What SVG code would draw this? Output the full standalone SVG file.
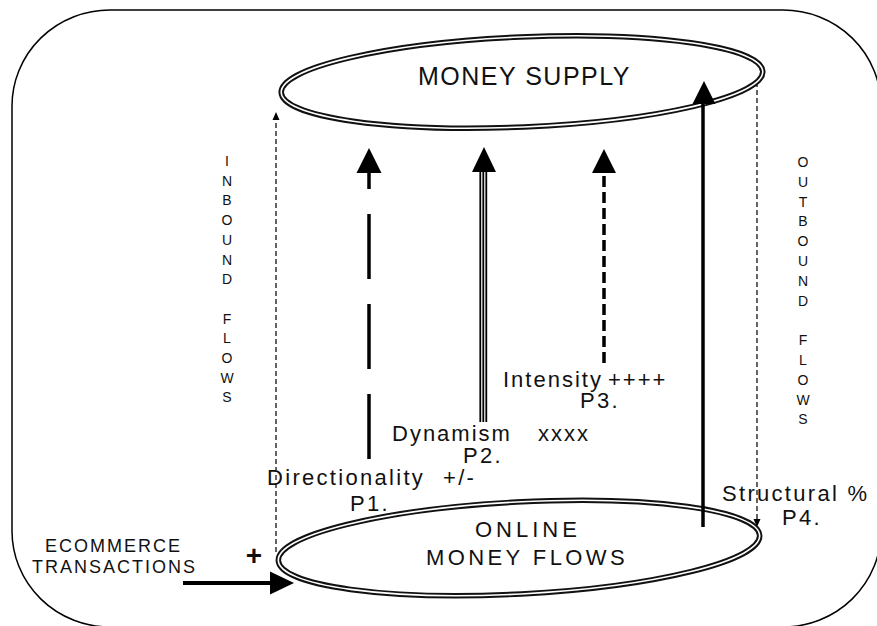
<svg xmlns="http://www.w3.org/2000/svg" width="877" height="626" viewBox="0 0 877 626">
<style>
  .t{font-family:"Liberation Sans",Arial,sans-serif;fill:#111;}
  .lbl{font-size:22px;letter-spacing:2.3px;}
  .big{font-size:25px;}
  .vert{font-size:14px;text-anchor:middle;}
  .ellOuter{fill:#fff;stroke:#111;stroke-width:5.5;}
  .ellInner{fill:none;stroke:#fff;stroke-width:1.6;}
  .head{fill:#000;}
  .thin{stroke:#111;stroke-width:1.3;fill:none;stroke-dasharray:5 3;}
</style>
<rect x="0" y="0" width="877" height="626" fill="#fff"/>
<rect id="frame" x="12" y="10" width="869" height="617" rx="98" ry="96" fill="none" stroke="#000" stroke-width="1.5"/>

<g id="connectors">
  <line class="thin" x1="276" y1="552" x2="276" y2="119"/>
  <polygon class="head" points="276,112 272.5,120 279.5,120"/>
  <line class="thin" x1="757" y1="82" x2="757" y2="520"/>
  <polygon class="head" points="757,527 753.5,519 760.5,519"/>
  <line x1="183" y1="583" x2="272" y2="583" stroke="#000" stroke-width="4"/>
  <polygon class="head" points="294,583 270,571.5 270,594.5"/>
</g>

<g id="money-supply">
  <ellipse class="ellOuter" cx="522" cy="82" rx="241" ry="45" transform="rotate(-2.5 522 82)"/>
  <ellipse class="ellInner" cx="522" cy="82" rx="241" ry="45" transform="rotate(-2.5 522 82)"/>
  <text class="t big" x="418" y="85" style="letter-spacing:1.5px">MONEY SUPPLY</text>
</g>

<g id="online-money-flows">
  <ellipse class="ellOuter" cx="519" cy="548" rx="241" ry="46" transform="rotate(-3 519 548)"/>
  <ellipse class="ellInner" cx="519" cy="548" rx="241" ry="46" transform="rotate(-3 519 548)"/>
  <text class="t" x="475" y="537" style="font-size:22px;letter-spacing:4px">ONLINE</text>
  <text class="t" x="426" y="565" style="font-size:22px;letter-spacing:3.4px">MONEY FLOWS</text>
</g>

<g id="connectors-flows">
  <line x1="369" y1="459" x2="369" y2="172" stroke="#000" stroke-width="3.5" stroke-dasharray="65 25"/>
  <polygon class="head" points="369,148 356.5,173 381.5,173"/>
  <g stroke="#000" stroke-width="1.8">
    <line x1="480.3" y1="422" x2="480.3" y2="170"/>
    <line x1="483.3" y1="422" x2="483.3" y2="170"/>
    <line x1="486.3" y1="422" x2="486.3" y2="170"/>
  </g>
  <polygon class="head" points="484,147 472,172 496,172"/>
  <line x1="604" y1="363" x2="604" y2="172" stroke="#000" stroke-width="3.5" stroke-dasharray="11 5"/>
  <polygon class="head" points="604,149 592,173 616,173"/>
  <line x1="703" y1="527" x2="703" y2="100" stroke="#000" stroke-width="3.5"/>
  <polygon class="head" points="704,81 692.5,104 715.5,104"/>
</g>

<g id="ecommerce">
  <text class="t" x="45" y="552" style="font-size:18px;letter-spacing:2px">ECOMMERCE</text>
  <text class="t" x="32" y="573" style="font-size:18px;letter-spacing:2px">TRANSACTIONS</text>
  <text class="t" x="254" y="565" text-anchor="middle" style="font-size:28px;font-weight:bold">+</text>
</g>

<g id="p1">
  <text class="t lbl" x="267" y="485">Directionality<tspan x="443">+/-</tspan></text>
  <text class="t lbl" x="350" y="511">P1.</text>
</g>
<g id="p2">
  <text class="t lbl" x="392" y="441" style="letter-spacing:2px">Dynamism<tspan x="538">xxxx</tspan></text>
  <text class="t lbl" x="463" y="463">P2.</text>
</g>
<g id="p3">
  <text class="t lbl" x="503" y="387" style="letter-spacing:2px">Intensity<tspan x="608">++++</tspan></text>
  <text class="t lbl" x="580" y="408">P3.</text>
</g>
<g id="p4">
  <text class="t lbl" x="722" y="501">Structural %</text>
  <text class="t lbl" x="782" y="525">P4.</text>
</g>

<g id="inbound-flows">
  <text class="t vert" x="227" y="166">I</text>
  <text class="t vert" x="227" y="185.7">N</text>
  <text class="t vert" x="227" y="205.4">B</text>
  <text class="t vert" x="227" y="225.1">O</text>
  <text class="t vert" x="227" y="244.8">U</text>
  <text class="t vert" x="227" y="264.5">N</text>
  <text class="t vert" x="227" y="284.2">D</text>
  <text class="t vert" x="227" y="323.6">F</text>
  <text class="t vert" x="227" y="343.3">L</text>
  <text class="t vert" x="227" y="363">O</text>
  <text class="t vert" x="227" y="382.7">W</text>
  <text class="t vert" x="227" y="402.4">S</text>
</g>
<g id="outbound-flows">
  <text class="t vert" x="803" y="167">O</text>
  <text class="t vert" x="803" y="186.8">U</text>
  <text class="t vert" x="803" y="206.6">T</text>
  <text class="t vert" x="803" y="226.4">B</text>
  <text class="t vert" x="803" y="246.2">O</text>
  <text class="t vert" x="803" y="266">U</text>
  <text class="t vert" x="803" y="285.8">N</text>
  <text class="t vert" x="803" y="305.6">D</text>
  <text class="t vert" x="803" y="345.2">F</text>
  <text class="t vert" x="803" y="365">L</text>
  <text class="t vert" x="803" y="384.8">O</text>
  <text class="t vert" x="803" y="404.6">W</text>
  <text class="t vert" x="803" y="424.4">S</text>
</g>
</svg>
